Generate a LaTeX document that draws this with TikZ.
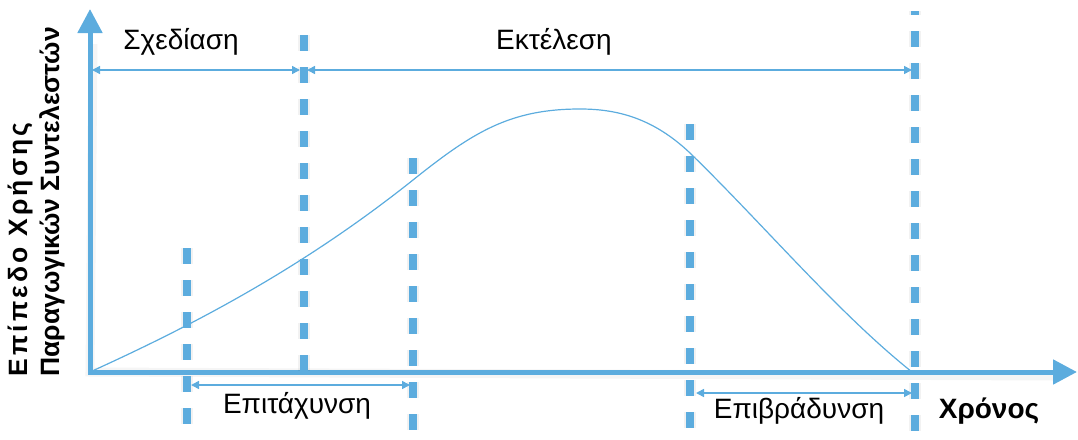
\documentclass[tikz,border=0pt]{standalone}
\usepackage{fontspec}
\setmainfont{Liberation Sans}
\usetikzlibrary{arrows.meta}
\definecolor{axisblue}{RGB}{92,172,222}
\tikzset{
  axisline/.style={axisblue, line width=5pt, line join=miter,
    {Triangle[length=24pt,width=24pt]}-{Triangle[length=24pt,width=24pt]}},
  phaseline/.style={axisblue, line width=8pt, dash pattern=on 16pt off 16pt},
  shadowline/.style={black, opacity=0.05, line width=12pt, shift={(3pt,-4pt)}, dash pattern=on 16pt off 16pt},
  spanarrow/.style={axisblue, line width=1.6pt,
    {Triangle[length=8pt,width=8pt]}-{Triangle[length=8pt,width=8pt]}},
  spanlabel/.style={font=\fontsize{28}{32}\selectfont, inner sep=0pt},
  boldlabel/.style={font=\fontsize{26.5}{32}\selectfont\bfseries, inner sep=0pt},
}
\begin{document}
\begin{tikzpicture}[x=1pt, y=-1pt]
  \useasboundingbox (0,0) rectangle (1078,439);

  % axes
  \coordinate (origin) at (90,372);
  \coordinate (ytip) at (90,9);
  \coordinate (xtip) at (1077,372);
  \draw[black, opacity=0.04, line width=9pt, shift={(3pt,-4pt)}] (90,40) -- (origin) -- (1050,372);
  \draw[axisline] (ytip) -- (origin) -- (xtip);

  % phase limits
  \foreach \name/\x/\top/\bot/\ph in {p1/187/248/426/0, p2/304/35/372/0, p3/413/158/431/0,
                                      p4/690/124/429/0, p5/915/11/432/12} {
    \coordinate (\name t) at (\x,\top);
    \coordinate (\name b) at (\x,\bot);
    \draw[shadowline, dash phase=\ph pt] (\name t) -- (\name b);
    \draw[phaseline, dash phase=\ph pt] (\name t) -- (\name b);
  }

  % usage curve
  \coordinate (rise) at (413,180);
  \coordinate (peak) at (580,109);
  \coordinate (fall) at (690,153);
  \coordinate (stop) at (912,372);
  \draw[axisblue, line width=1.2pt]
    (origin) .. controls (198,323) and (305,266) .. (rise)
             .. controls (473,132) and (510,109) .. (peak)
             .. controls (617,109) and (653,118) .. (fall)
             .. controls (764,225) and (838,313) .. (stop);

  % spans
  \coordinate (s1a) at (92,70);   \coordinate (s1b) at (300,70);
  \coordinate (s2a) at (307,70);  \coordinate (s2b) at (912,70);
  \coordinate (s3a) at (191,385); \coordinate (s3b) at (410,385);
  \coordinate (s4a) at (696,393); \coordinate (s4b) at (912,393);
  \draw[spanarrow] (s1a) -- (s1b);
  \draw[spanarrow] (s2a) -- (s2b);
  \draw[spanarrow] (s3a) -- (s3b);
  \draw[spanarrow] (s4a) -- (s4b);

  % labels
  \node[spanlabel] (design) at (181,42) {Σχεδίαση};
  \node[spanlabel] (exec) at (554,42) {Εκτέλεση};
  \node[spanlabel] (accel) at (297,406) {Επιτάχυνση};
  \node[spanlabel] (decel) at (799,411) {Επιβράδυνση};
  \node[boldlabel, font=\fontsize{28}{32}\selectfont\bfseries] (time) at (989,411) {Χρόνος};
  \node[boldlabel, rotate=90, align=left, anchor=west] (ylabel) at (36,377)
    {{\addfontfeatures{LetterSpace=12}Επίπεδο Χρήσης}\\Παραγωγικών Συντελεστών};
\end{tikzpicture}
\end{document}
